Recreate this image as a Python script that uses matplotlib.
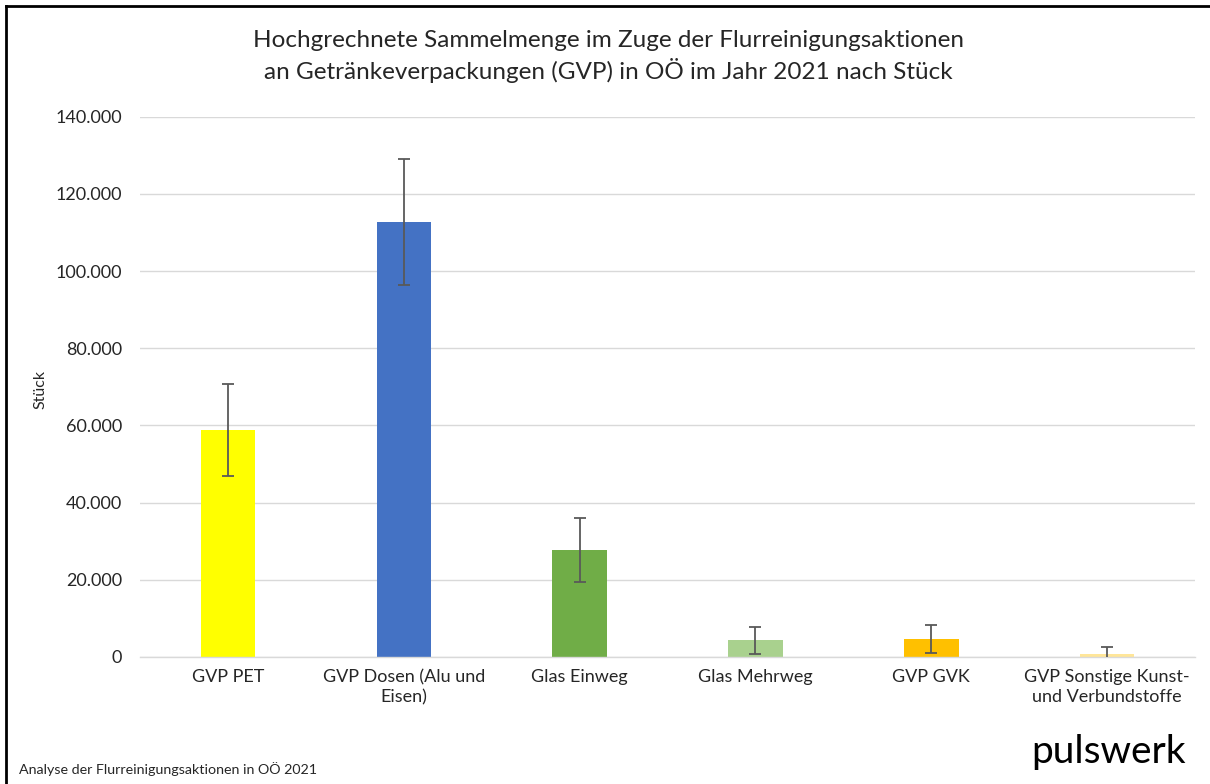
import matplotlib
matplotlib.use("Agg")
import matplotlib.pyplot as plt
from matplotlib.ticker import FuncFormatter
from matplotlib.lines import Line2D

plt.rcParams['font.family'] = ['Lato', 'DejaVu Sans']

categories = ["GVP PET", "GVP Dosen (Alu und\nEisen)", "Glas Einweg", "Glas Mehrweg",
              "GVP GVK", "GVP Sonstige Kunst-\nund Verbundstoffe"]
values = [58800, 112800, 27700, 4400, 4700, 800]
errors = [12000, 16300, 8300, 3500, 3600, 1900]
colors = ["#FFFF00", "#4472C4", "#70AD47", "#A9D18E", "#FFC000", "#FFE699"]
yticks = [0, 20000, 40000, 60000, 80000, 100000, 120000, 140000]

W, H = 1210, 784
fig = plt.figure(figsize=(12.1, 7.84), dpi=100)
# frame: top and left only
fig.lines.append(Line2D([6 / W, 1.0], [1 - 6 / H, 1 - 6 / H], transform=fig.transFigure,
                        color="black", linewidth=2))
fig.lines.append(Line2D([6 / W, 6 / W], [0, 1 - 6 / H], transform=fig.transFigure,
                        color="black", linewidth=2))
ax = fig.add_axes([0.1157, 0.162, 0.872, 0.689])

x = list(range(len(categories)))
ax.bar(x, values, width=0.31, color=colors, zorder=2)
ax.errorbar(x, values, yerr=errors, fmt="none", ecolor="#595959", elinewidth=1.3,
            capsize=4, capthick=1.3, zorder=3)

ax.set_xlim(-0.5, len(categories) - 0.5)
ax.set_ylim(0, 140000)
ax.set_yticks(yticks)
ax.yaxis.set_major_formatter(FuncFormatter(lambda v, p: f"{int(v):,}".replace(",", ".")))
ax.set_xticks(x)
ax.set_xticklabels(categories, fontsize=13, color="#262626", linespacing=1.3)
ax.tick_params(axis="y", labelsize=13, labelcolor="#262626", length=0, pad=13)
ax.tick_params(axis="x", length=0, pad=9)
ax.grid(axis="y", color="#D9D9D9", linewidth=1, zorder=0)
ax.set_axisbelow(True)
for s in ["top", "right", "left"]:
    ax.spines[s].set_visible(False)
ax.spines["bottom"].set_color("#D9D9D9")
ax.spines["bottom"].set_linewidth(1)

fig.text(0.0335, 0.503, "Stück", rotation=90, fontsize=11.5, color="#262626",
         ha="center", va="center")
fig.text(0.503, 0.928, "Hochgrechnete Sammelmenge im Zuge der Flurreinigungsaktionen\n"
         "an Getränkeverpackungen (GVP) in OÖ im Jahr 2021 nach Stück",
         ha="center", va="center", fontsize=17.5, color="#262626", linespacing=1.35)
fig.text(0.016, 0.01, "Analyse der Flurreinigungsaktionen in OÖ 2021", fontsize=10.3,
         color="#262626", ha="left", va="bottom")
fig.text(0.98, 0.018, "pulswerk", fontsize=28, color="black", ha="right", va="bottom")

fig.savefig("out.png", dpi=100)
